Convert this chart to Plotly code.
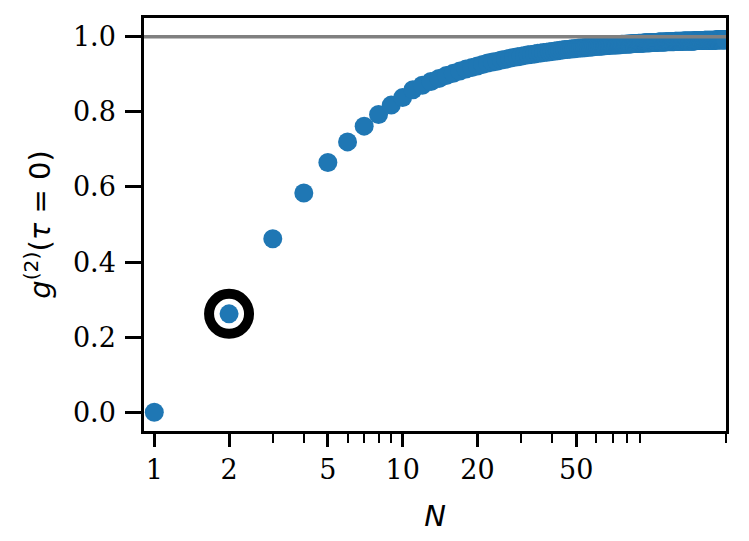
import math
import plotly.graph_objects as go

# g2(tau=0) versus number of emitters N
n_values = list(range(1, 201))
g2_values = [
    0.000, 0.262, 0.462, 0.584, 0.665, 0.720, 0.762, 0.793, 0.818, 0.838,
    0.859, 0.871, 0.881, 0.889, 0.897, 0.903, 0.909, 0.914, 0.918, 0.922,
    0.926, 0.930, 0.933, 0.935, 0.938, 0.940, 0.943, 0.945, 0.947, 0.948,
    0.950, 0.952, 0.953, 0.954, 0.956, 0.957, 0.958, 0.959, 0.960, 0.961,
    0.962, 0.963, 0.964, 0.965, 0.966, 0.966, 0.967, 0.968, 0.968, 0.969,
    0.970, 0.970, 0.971, 0.971, 0.972, 0.972, 0.973, 0.973, 0.974, 0.974,
    0.975, 0.975, 0.975, 0.976, 0.976, 0.977, 0.977, 0.977, 0.978, 0.978,
    0.978, 0.978, 0.979, 0.979, 0.979, 0.980, 0.980, 0.980, 0.980, 0.981,
    0.981, 0.981, 0.981, 0.982, 0.982, 0.982, 0.982, 0.982, 0.983, 0.983,
    0.983, 0.983, 0.983, 0.984, 0.984, 0.984, 0.984, 0.984, 0.984, 0.985,
    0.985, 0.985, 0.985, 0.985, 0.985, 0.985, 0.986, 0.986, 0.986, 0.986,
    0.986, 0.986, 0.986, 0.986, 0.987, 0.987, 0.987, 0.987, 0.987, 0.987,
    0.987, 0.987, 0.987, 0.987, 0.988, 0.988, 0.988, 0.988, 0.988, 0.988,
    0.988, 0.988, 0.988, 0.988, 0.989, 0.989, 0.989, 0.989, 0.989, 0.989,
    0.989, 0.989, 0.989, 0.989, 0.989, 0.989, 0.989, 0.989, 0.989, 0.989,
    0.990, 0.990, 0.990, 0.990, 0.990, 0.990, 0.990, 0.990, 0.990, 0.990,
    0.990, 0.990, 0.990, 0.991, 0.991, 0.991, 0.991, 0.991, 0.991, 0.991,
    0.991, 0.991, 0.991, 0.991, 0.991, 0.991, 0.991, 0.991, 0.991, 0.991,
    0.991, 0.991, 0.992, 0.992, 0.992, 0.992, 0.992, 0.992, 0.992, 0.992,
    0.992, 0.992, 0.992, 0.992, 0.992, 0.992, 0.992, 0.992, 0.992, 0.992,
]
highlight_n = [2]
highlight_g2 = [0.262]

x_major = [1, 2, 5, 10, 20, 50]
x_major_text = ["1", "2", "5", "10", "20", "50"]
x_minor = [3, 4, 6, 7, 8, 9, 30, 40, 60, 70, 80, 90, 200]
y_ticks = [0.0, 0.2, 0.4, 0.6, 0.8, 1.0]

BLUE = "#1f77b4"
TICK_FONT = dict(family="DejaVu Serif", size=27, color="black")
TITLE_FONT = dict(family="DejaVu Sans", size=29, color="black")

fig = go.Figure()
fig.add_trace(go.Scatter(
    x=n_values, y=g2_values, mode="markers",
    marker=dict(size=19, color=BLUE, line=dict(width=0)),
))
fig.add_trace(go.Scatter(
    x=highlight_n, y=highlight_g2, mode="markers",
    marker=dict(symbol="circle-open", size=40, color="black", line=dict(width=10, color="black")),
))

# reference line g2 = 1
fig.add_shape(type="line", xref="paper", x0=0, x1=1, yref="y", y0=1, y1=1,
              line=dict(color="#808080", width=3.5), layer="above")

# page body adds an 8px margin, so the figure is 8px smaller than the window
fig.update_layout(
    width=741, height=533,
    margin=dict(l=136, r=23, t=7, b=110),
    paper_bgcolor="white", plot_bgcolor="white",
    showlegend=False,
)
fig.update_xaxes(
    type="log", range=[math.log10(0.909), math.log10(200.5)],
    tickmode="array", tickvals=x_major, ticktext=x_major_text,
    ticks="outside", ticklen=13, tickwidth=2.5, tickcolor="black",
    minor=dict(tickmode="array", tickvals=x_minor, ticks="outside",
               ticklen=9, tickwidth=2, tickcolor="black", showgrid=False),
    showline=True, linecolor="black", linewidth=2.5, mirror=True,
    showgrid=False, zeroline=False, tickfont=TICK_FONT,
    title=dict(text="<i>N</i>", font=TITLE_FONT, standoff=22),
)
fig.update_yaxes(
    range=[-0.05, 1.05], tickmode="array", tickvals=y_ticks, tickformat=".1f",
    ticks="outside", ticklen=16, tickwidth=2.5, tickcolor="black",
    ticklabelstandoff=4,
    showline=True, linecolor="black", linewidth=2.5, mirror=True,
    showgrid=False, zeroline=False, tickfont=TICK_FONT,
    title=dict(text="<i>g</i><sup>(2)</sup>(<i>τ</i> = 0)", font=TITLE_FONT, standoff=14),
)

fig.write_html("out.html")
